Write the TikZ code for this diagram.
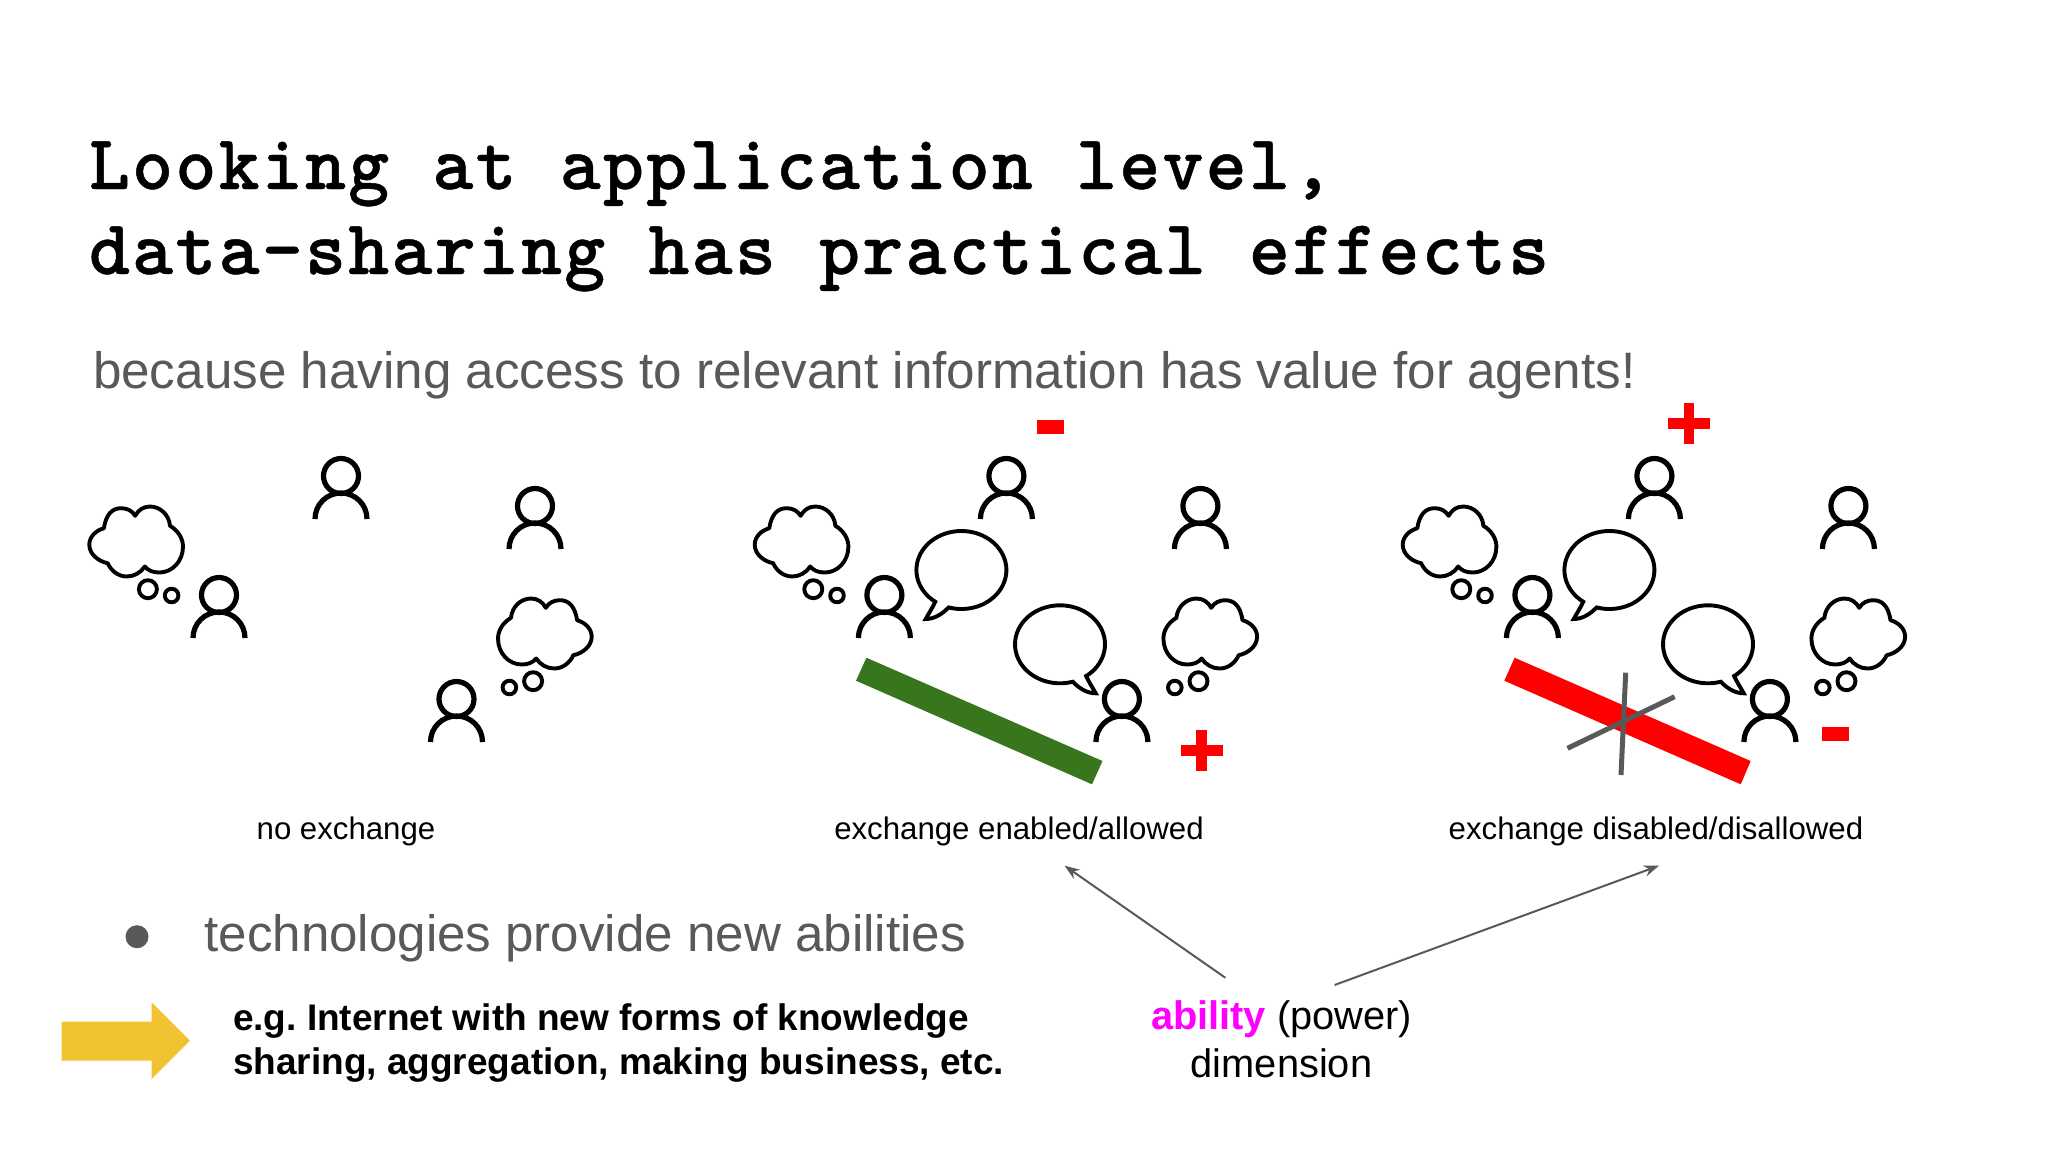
\documentclass[tikz,border=0pt]{standalone}
\usetikzlibrary{arrows.meta}
\usepackage{fontspec}
\setmainfont{Liberation Sans}
\newfontfamily\monof[LetterSpace=2.9,BoldFeatures={FakeBold=0.6}]{Latin Modern Mono Light}
\frenchspacing
\definecolor{slidegrey}{HTML}{595959}
\definecolor{slidegreen}{HTML}{38761D}
\definecolor{slideyellow}{HTML}{F1C232}
\definecolor{slidemagenta}{HTML}{FF00FF}
\definecolor{slidered}{HTML}{FF0000}
\tikzset{
  txt/.style={inner sep=0pt,outer sep=0pt,anchor=base west},
  txtc/.style={inner sep=0pt,outer sep=0pt,anchor=base},
  titletxt/.style={txt,font=\monof\bfseries\fontsize{78}{78}\selectfont},
  subtxt/.style={txt,text=slidegrey,font=\fontsize{51.2}{51.2}\selectfont},
  bullettxt/.style={txt,text=slidegrey,font=\fontsize{51.1}{51.1}\selectfont},
  labeltxt/.style={txtc,font=\fontsize{31.2}{31.2}\selectfont},
  boldtxt/.style={txt,font=\bfseries\fontsize{37}{37}\selectfont},
  dimtxt/.style={txtc,font=\fontsize{39.8}{39.8}\selectfont},
  iconline/.style={draw=black,line width=5.2pt},
  cloudline/.style={draw=black,line width=3.9pt,line join=round},
  pointer/.style={draw=slidegrey,line width=2pt,-{Stealth[length=15pt,width=11pt]}},
  person/.pic={
    \draw[iconline] (0,0) circle[radius=17.5pt];
    \draw[iconline] (-26,43) .. controls (-26,28.6) and (-14.4,17) .. (0,17)
       .. controls (14.4,17) and (26,28.6) .. (26,43);
  },
  thoughtcloud/.pic={
    \draw[cloudline] (-32.1,-13.3)
      .. controls (-30,-27) and (-24,-33.3) .. (-14.9,-33.3)
      .. controls (-9,-33.3) and (-4,-31) .. (-0.8,-25.7)
      .. controls (2,-31) and (7,-35) .. (13.8,-35)
      .. controls (24,-35) and (33,-27) .. (34,-15.7)
      .. controls (42,-11) and (47,-3) .. (47,5)
      .. controls (47,20) and (36,31) .. (23.3,31)
      .. controls (17,31) and (12,29) .. (8.8,25)
      .. controls (5,31) and (-2,35) .. (-9.2,35)
      .. controls (-18,35) and (-25,29) .. (-28.3,21.7)
      .. controls (-37,20) and (-46.7,13) .. (-46.7,3.3)
      .. controls (-46.7,-5) and (-40,-11) .. cycle;
    \draw[cloudline] (11.9,47.7) circle[radius=9pt];
    \draw[cloudline] (35.6,54) circle[radius=6.8pt];
  },
  speech/.pic={
    \draw[cloudline,line join=miter] plot[smooth,domain=125.5:466.5,samples=70] ({45*cos(\x)},{39*sin(\x)})
      .. controls (-20,45) and (-28,49) .. (-35.7,49)
      .. controls (-33,44) and (-29,38) .. cycle;
  },
  agents/.pic={
    \pic at (341,476) {person};
    \pic at (535,506) {person};
    \pic at (219,595) {person};
    \pic at (456.5,699) {person};
    \pic at (136,541.5) {thoughtcloud};
    \pic[xscale=-1] at (545,633.5) {thoughtcloud};
  },
  plussign/.pic={
    \fill[slidered] (-20.7,-5.4) rectangle (20.7,5.4);
    \fill[slidered] (-5.4,-20.7) rectangle (5.4,20.7);
  },
  minussign/.pic={
    \fill[slidered] (-13.4,-7) rectangle (13.4,7);
  }
}
\begin{document}
\begin{tikzpicture}[x=1pt,y=-1pt]
\useasboundingbox (0,0) rectangle (2048,1152);
\fill[white] (0,0) rectangle (2048,1152);

% title and subtitle
\node[titletxt] (title1) at (89,189) {Looking at application level,};
\node[titletxt] (title2) at (89,274) {data-sharing has practical effects};
\node[subtxt] (sub) at (93,388) {because having access to relevant information has value for agents!};

% panel 1
\pic at (0,0) {agents};
\node[labeltxt] (lab1) at (346,839) {no exchange};

% panel 2
\pic at (665.4,0) {agents};
\pic at (961.4,570) {speech};
\pic[xscale=-1] at (1060,644.3) {speech};
\fill[slidegreen] (866.4,657.7) -- (856,680.7) -- (1092,784.3) -- (1102.5,761) -- cycle;
\pic at (1050.5,426.7) {minussign};
\pic at (1201.8,750.7) {plussign};
\node[labeltxt] (lab2) at (1019,839) {exchange enabled/allowed};

% panel 3
\pic at (1313.4,0) {agents};
\pic at (1609.4,570) {speech};
\pic[xscale=-1] at (1708,644.3) {speech};
\fill[slidered] (1514.6,657.7) -- (1504.3,680.7) -- (1740.7,784.3) -- (1750.7,761) -- cycle;
\draw[slidegrey,line width=5pt] (1625.7,672.7) -- (1621,775);
\draw[slidegrey,line width=5pt] (1674.6,696.7) -- (1567.5,748.3);
\pic at (1689,423.7) {plussign};
\pic at (1835.2,733.7) {minussign};
\node[labeltxt] (lab3) at (1656,839) {exchange disabled/disallowed};

% bullet and text
\fill[slidegrey] (137,936.7) circle[radius=11.5pt];
\node[bullettxt] (bullet) at (204.5,951.7) {technologies provide new abilities};

% yellow arrow
\fill[slideyellow] (61.7,1021.7) -- (151.6,1021.7) -- (151.6,1002.3) -- (190,1040.7)
   -- (151.6,1079) -- (151.6,1060.7) -- (61.7,1060.7) -- cycle;
\node[boldtxt] (eg1) at (233,1030) {e.g. Internet with new forms of knowledge};
\node[boldtxt] (eg2) at (233,1074) {sharing, aggregation, making business, etc.};

% ability
\node[dimtxt] (dim1) at (1281.5,1029) {\textcolor{slidemagenta}{\bfseries ability} (power)};
\node[dimtxt] (dim2) at (1281.5,1077.5) {dimension};
\coordinate (fromL) at (1225.3,977.7);
\coordinate (fromR) at (1334.6,985);
\coordinate (toL) at (1064.6,865.7);
\coordinate (toR) at (1659,865.7);
\draw[pointer] (fromL) -- (toL);
\draw[pointer] (fromR) -- (toR);
\end{tikzpicture}
\end{document}
